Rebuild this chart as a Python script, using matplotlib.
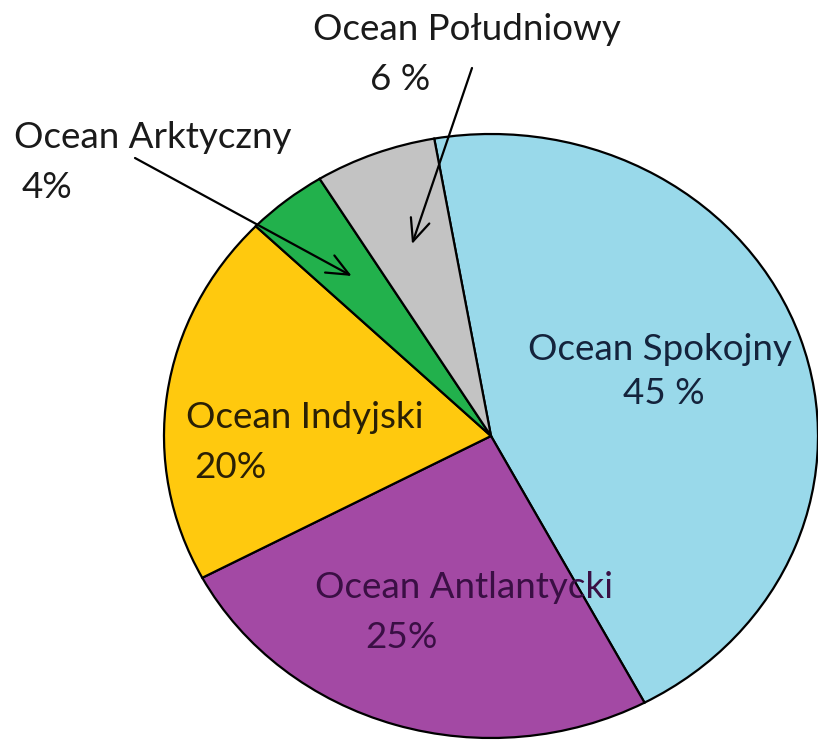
import numpy as np
import matplotlib
matplotlib.use("Agg")
import matplotlib.pyplot as plt

# dane z wykresu
oceany = ["Ocean Spokojny", "Ocean Antlantycki", "Ocean Indyjski", "Ocean Arktyczny", "Ocean Południowy"]
procenty = [45, 25, 20, 4, 6]
etykiety_proc = ["45 %", "25%", "20%", "4%", "6 %"]
kolory = ["#99D9EA", "#A349A4", "#FFC90E", "#22B14C", "#C3C3C3"]
kolory_tekstu = ["#14233c", "#3a0f44", "#2a2005", "#1a1a1a", "#1a1a1a"]

W, H = 818, 741
CX, CY = 491, 436      # srodek kola w pikselach
RX, RY = 327, 302      # promienie (kolo troche rozciagniete)


def px(x, y):
    # piksele obrazka -> wspolrzedne osi
    return ((x - CX) / RX, (CY - y) / RY)


plt.rcParams['font.family'] = ['Lato', 'DejaVu Sans']

fig = plt.figure(figsize=(W / 100, H / 100), dpi=100)
ax = fig.add_axes([0, 0, 1, 1])

wedges, _ = ax.pie(procenty, colors=kolory, startangle=100, counterclock=False,
                   wedgeprops=dict(edgecolor="black", linewidth=1.6))
ax.set_aspect('auto')
ax.set_xlim(px(0, 0)[0], px(W, 0)[0])
ax.set_ylim(px(0, H)[1], px(0, 0)[1])
ax.axis('off')

fs = 26.5

# etykiety wewnatrz kola
ax.text(*px(660, 350), oceany[0], ha='center', va='center', fontsize=fs, color=kolory_tekstu[0])
ax.text(*px(664, 394), etykiety_proc[0], ha='center', va='center', fontsize=fs, color=kolory_tekstu[0])
ax.text(*px(315, 588), oceany[1], ha='left', va='center', fontsize=fs, color=kolory_tekstu[1])
ax.text(*px(365, 637), etykiety_proc[1], ha='left', va='center', fontsize=fs, color=kolory_tekstu[1])
ax.text(*px(186, 418), oceany[2], ha='left', va='center', fontsize=fs, color=kolory_tekstu[2])
ax.text(*px(194, 468), etykiety_proc[2], ha='left', va='center', fontsize=fs, color=kolory_tekstu[2])

# etykiety na zewnatrz ze strzalkami
ax.text(*px(14, 138), oceany[3], ha='left', va='center', fontsize=fs, color=kolory_tekstu[3])
ax.text(*px(22, 188), etykiety_proc[3], ha='left', va='center', fontsize=fs, color=kolory_tekstu[3])
ax.text(*px(467, 30), oceany[4], ha='center', va='center', fontsize=fs, color=kolory_tekstu[4])
ax.text(*px(400, 80), etykiety_proc[4], ha='center', va='center', fontsize=fs, color=kolory_tekstu[4])

poczatki = {3: px(135, 158), 4: px(472, 68)}
for i, start in poczatki.items():
    w = wedges[i]
    kat = np.deg2rad((w.theta1 + w.theta2) / 2)
    r = 0.68
    tip = (r * np.cos(kat), r * np.sin(kat))
    ax.annotate("", xy=tip, xytext=start,
                arrowprops=dict(arrowstyle="->,head_length=1.6,head_width=0.7",
                                color="black", lw=1.6, shrinkA=0, shrinkB=0))

fig.savefig("out.png", dpi=100)
